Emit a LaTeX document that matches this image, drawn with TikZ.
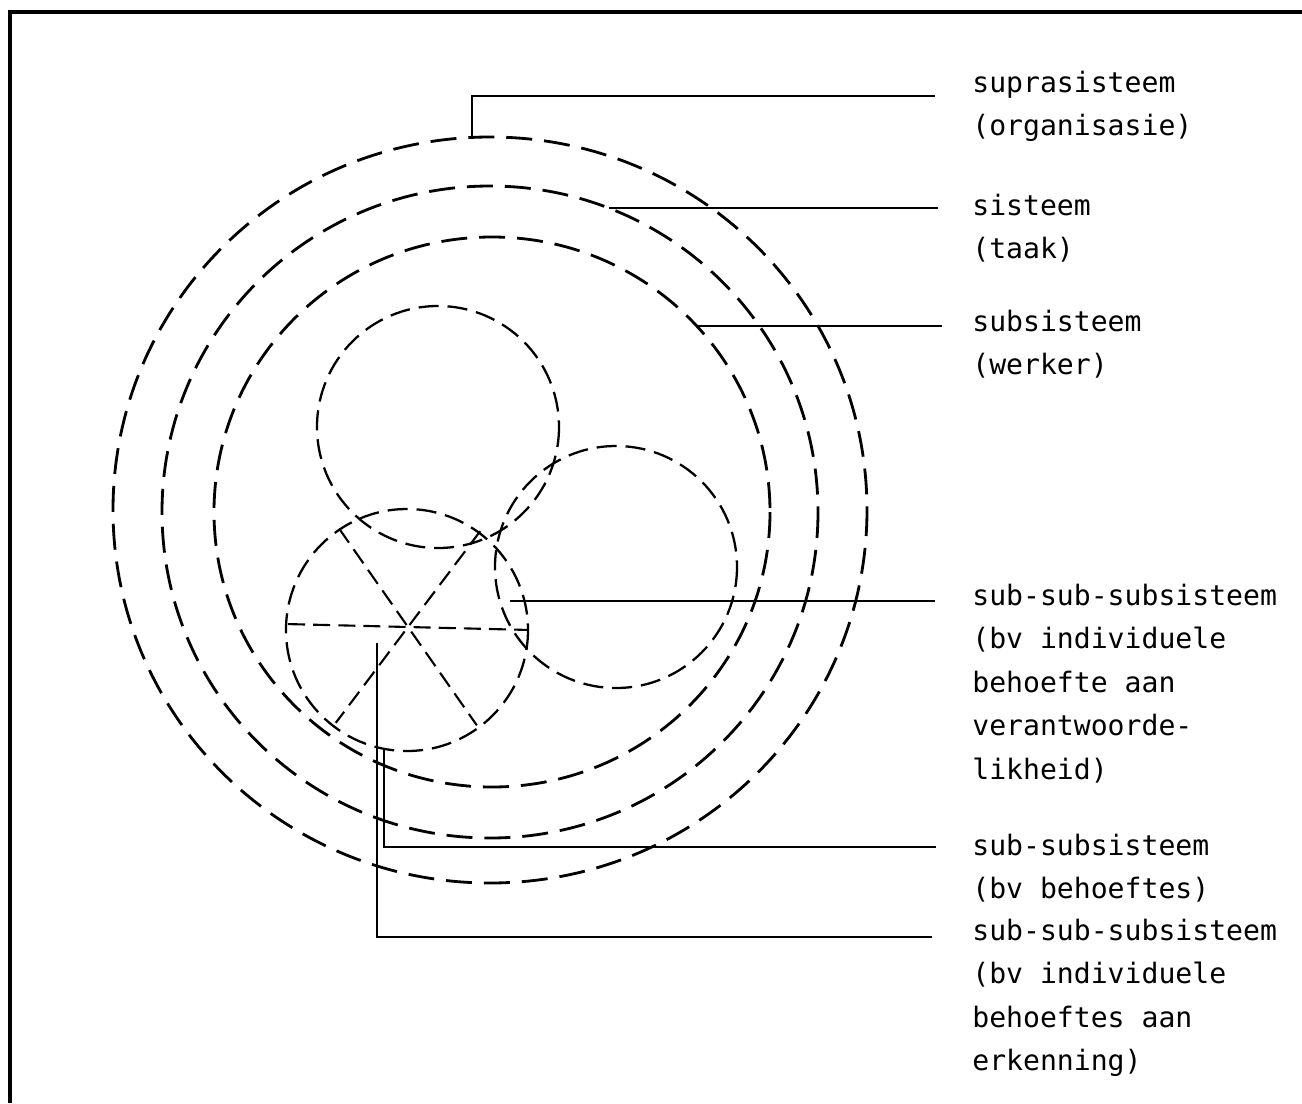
\documentclass[tikz,border=0pt]{standalone}
\usepackage{fontspec}
\usepackage{tikz}
\newfontfamily\typewriter{DejaVu Sans Mono}
\usetikzlibrary{calc}

\tikzset{
  bigring/.style={line width=1.6pt, dash pattern=on 14.8pt off 6.8pt},
  smallring/.style={line width=1.3pt, dash pattern=on 11.4pt off 5.1pt},
  spoke/.style={line width=1.2pt, dash pattern=on 9.7pt off 4.6pt},
  leader/.style={line width=1.1pt},
  lbl/.style={font=\typewriter\fontsize{16pt}{24.75pt}\selectfont, align=left,
    anchor=north west, inner sep=0pt, yshift=0.609cm}
}

\begin{document}
\begin{tikzpicture}[x=0.02cm, y=-0.02cm]
    \useasboundingbox (0,0) rectangle (1302,1103);
    % page edge
    \draw[line width=1.8pt] (10,1103) -- (10,12) -- (1302,12);

    % nested systems
    \draw[bigring] (490,510) ellipse [x radius=377, y radius=373];
    \draw[bigring] (490,512) ellipse [x radius=328, y radius=326];
    \draw[bigring] (492,512) ellipse [x radius=278, y radius=275];

    % sub-subsystems
    \coordinate (ca) at (438,427);
    \coordinate (cb) at (616,567);
    \coordinate (cc) at (407,630);
    \coordinate (hub) at (408,627);
    \foreach \c in {ca,cb,cc} {
        \draw[smallring] (\c) circle [radius=121];
    }
    % sectors in the left circle
    \foreach \a in {1.4,55,127} {
        \draw[spoke] ($(hub)+(\a:-120)$) -- ($(hub)+(\a:120)$);
    }

    % labels
    \node[lbl] (l-supra) at (972,92)  {\strut suprasisteem\\(organisasie)};
    \node[lbl] (l-sis)   at (972,215) {\strut sisteem\\(taak)};
    \node[lbl] (l-sub)   at (972,331) {\strut subsisteem\\(werker)};
    \node[lbl] (l-sss1)  at (972,605) {\strut sub-sub-subsisteem\\(bv individuele\\behoefte aan\\verantwoorde-\\likheid)};
    \node[lbl] (l-ss)    at (972,855) {\strut sub-subsisteem\\(bv behoeftes)};
    \node[lbl] (l-sss2)  at (972,940) {\strut sub-sub-subsisteem\\(bv individuele\\behoeftes aan\\erkenning)};

    % leader ends
    \coordinate (p-supra) at (472,137);  \coordinate (q-supra) at (935,96);
    \coordinate (p-sis)   at (609,208);  \coordinate (q-sis)   at (938,208);
    \coordinate (p-sub)   at (697,326);  \coordinate (q-sub)   at (942,326);
    \coordinate (p-sss1)  at (510,601);  \coordinate (q-sss1)  at (935,601);
    \coordinate (p-ss)    at (384,748);  \coordinate (q-ss)    at (936,847);
    \coordinate (p-sss2)  at (377,643);  \coordinate (q-sss2)  at (932,937);

    \draw[leader] (p-supra) |- (q-supra);
    \draw[leader] (p-sis) -- (q-sis);
    \draw[leader] (p-sub) -- (q-sub);
    \draw[leader] (p-sss1) -- (q-sss1);
    \draw[leader] (p-ss) |- (q-ss);
    \draw[leader] (p-sss2) |- (q-sss2);
\end{tikzpicture}
\end{document}
